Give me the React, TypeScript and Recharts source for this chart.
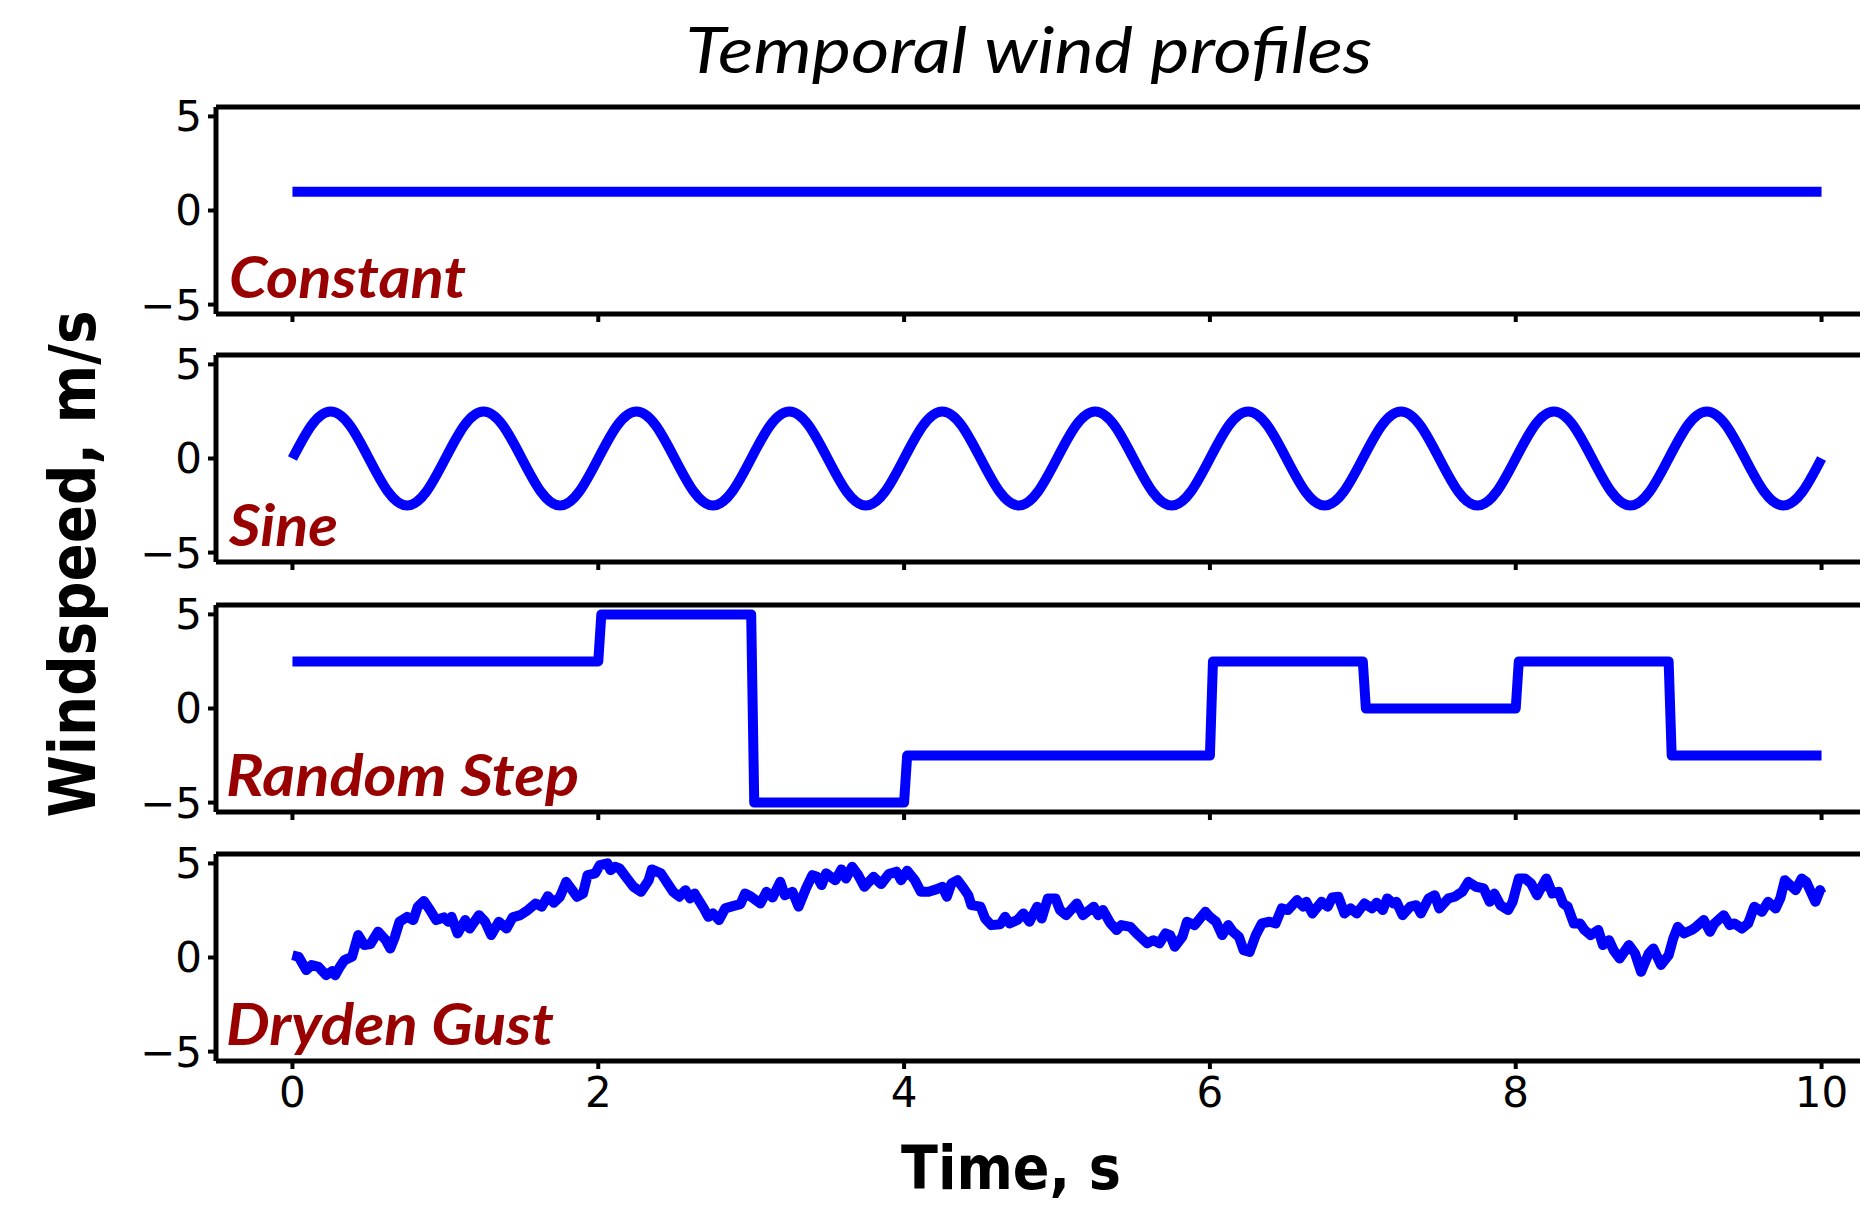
import * as React from 'react';
import { Line, LineChart, ReferenceLine, XAxis, YAxis } from 'recharts';

// tick values
const TIME_TICKS = [0, 2, 4, 6, 8, 10];
const SPEED_TICKS = [-5, 0, 5];

// constant wind
const constTime = [0, 10];
const constSpeed = [1, 1];

// sine wind, sampled every 1/8 s
const sineTime = [
  0, 0.125, 0.25, 0.375, 0.5, 0.625, 0.75, 0.875,
  1, 1.125, 1.25, 1.375, 1.5, 1.625, 1.75, 1.875,
  2, 2.125, 2.25, 2.375, 2.5, 2.625, 2.75, 2.875,
  3, 3.125, 3.25, 3.375, 3.5, 3.625, 3.75, 3.875,
  4, 4.125, 4.25, 4.375, 4.5, 4.625, 4.75, 4.875,
  5, 5.125, 5.25, 5.375, 5.5, 5.625, 5.75, 5.875,
  6, 6.125, 6.25, 6.375, 6.5, 6.625, 6.75, 6.875,
  7, 7.125, 7.25, 7.375, 7.5, 7.625, 7.75, 7.875,
  8, 8.125, 8.25, 8.375, 8.5, 8.625, 8.75, 8.875,
  9, 9.125, 9.25, 9.375, 9.5, 9.625, 9.75, 9.875,
  10,
];
const sineSpeed = [
  0, 1.77, 2.5, 1.77, 0, -1.77, -2.5, -1.77,
  0, 1.77, 2.5, 1.77, 0, -1.77, -2.5, -1.77,
  0, 1.77, 2.5, 1.77, 0, -1.77, -2.5, -1.77,
  0, 1.77, 2.5, 1.77, 0, -1.77, -2.5, -1.77,
  0, 1.77, 2.5, 1.77, 0, -1.77, -2.5, -1.77,
  0, 1.77, 2.5, 1.77, 0, -1.77, -2.5, -1.77,
  0, 1.77, 2.5, 1.77, 0, -1.77, -2.5, -1.77,
  0, 1.77, 2.5, 1.77, 0, -1.77, -2.5, -1.77,
  0, 1.77, 2.5, 1.77, 0, -1.77, -2.5, -1.77,
  0, 1.77, 2.5, 1.77, 0, -1.77, -2.5, -1.77,
  0,
];

// random step wind
const stepTime = [0, 2, 2.02, 3, 3.02, 4, 4.02, 6, 6.02, 7, 7.02, 8, 8.02, 9, 9.02, 10];
const stepSpeed = [2.5, 2.5, 5, 5, -5, -5, -2.5, -2.5, 2.5, 2.5, 0, 0, 2.5, 2.5, -2.5, -2.5];

// dryden gust
const gustTime = [
  0, 0.04, 0.09, 0.125, 0.17, 0.22, 0.26, 0.28, 0.31, 0.34, 0.39, 0.43, 0.47, 0.51, 0.56, 0.61,
  0.64, 0.67, 0.7, 0.75, 0.79, 0.82, 0.86, 0.9, 0.94, 0.99, 1.02, 1.04, 1.08, 1.13, 1.16, 1.22,
  1.26, 1.3, 1.35, 1.4, 1.44, 1.49, 1.54, 1.59, 1.63, 1.67, 1.71, 1.75, 1.79, 1.83, 1.86, 1.9,
  1.93, 1.98, 2.01, 2.06, 2.08, 2.11, 2.14, 2.18, 2.23, 2.28, 2.33, 2.35, 2.41, 2.46, 2.49, 2.53,
  2.57, 2.6, 2.63, 2.69, 2.72, 2.75, 2.79, 2.83, 2.88, 2.93, 2.96, 3.0, 3.06, 3.1, 3.14, 3.19,
  3.22, 3.27, 3.31, 3.36, 3.4, 3.43, 3.46, 3.49, 3.55, 3.59, 3.62, 3.66, 3.7, 3.74, 3.8, 3.85,
  3.9, 3.95, 3.98, 4.02, 4.07, 4.11, 4.16, 4.21, 4.25, 4.28, 4.31, 4.35, 4.39, 4.42, 4.44, 4.5,
  4.53, 4.57, 4.63, 4.66, 4.69, 4.74, 4.78, 4.82, 4.87, 4.9, 4.94, 4.99, 5.02, 5.06, 5.13, 5.17,
  5.24, 5.27, 5.3, 5.35, 5.39, 5.42, 5.48, 5.52, 5.59, 5.63, 5.67, 5.71, 5.74, 5.77, 5.82, 5.85,
  5.9, 5.97, 6.0, 6.04, 6.08, 6.12, 6.15, 6.19, 6.22, 6.26, 6.3, 6.34, 6.39, 6.43, 6.47, 6.51,
  6.57, 6.61, 6.63, 6.67, 6.73, 6.77, 6.8, 6.84, 6.88, 6.92, 6.96, 7.01, 7.06, 7.09, 7.13, 7.16,
  7.2, 7.22, 7.26, 7.31, 7.35, 7.38, 7.43, 7.47, 7.5, 7.56, 7.6, 7.65, 7.69, 7.74, 7.79, 7.83,
  7.86, 7.9, 7.95, 7.98, 8.02, 8.06, 8.1, 8.14, 8.2, 8.24, 8.28, 8.31, 8.34, 8.38, 8.42, 8.45,
  8.49, 8.54, 8.57, 8.61, 8.64, 8.68, 8.74, 8.78, 8.82, 8.87, 8.9, 8.95, 9.0, 9.03, 9.06, 9.1,
  9.15, 9.18, 9.23, 9.27, 9.3, 9.36, 9.4, 9.43, 9.48, 9.52, 9.56, 9.61, 9.65, 9.7, 9.73, 9.76,
  9.83, 9.87, 9.9, 9.96, 9.99, 10,
];
const gustSpeed = [
  0.12, 0.04, -0.67, -0.4, -0.5, -0.94, -0.72, -0.94, -0.5, -0.14, 0.04, 1.19, 0.66, 0.71, 1.37, 0.92,
  0.48, 1.1, 1.9, 2.16, 1.99, 2.7, 3.0, 2.52, 1.99, 2.13, 1.9, 2.16, 1.28, 1.99, 1.54, 2.25,
  1.9, 1.19, 1.9, 1.54, 2.13, 2.25, 2.52, 2.87, 2.7, 3.26, 2.91, 3.23, 4.02, 3.58, 3.23, 3.4,
  4.38, 4.47, 4.91, 5.0, 4.64, 4.82, 4.73, 4.29, 3.76, 3.49, 4.11, 4.68, 4.47, 3.85, 3.49, 3.23,
  3.58, 3.14, 3.4, 2.61, 2.16, 2.34, 1.99, 2.61, 2.73, 2.84, 3.4, 3.23, 2.87, 3.49, 3.19, 4.02,
  3.31, 3.49, 2.7, 3.7, 4.38, 4.29, 3.85, 4.47, 4.11, 4.68, 4.2, 4.82, 4.38, 3.76, 4.29, 3.9,
  4.43, 4.56, 4.11, 4.61, 4.11, 3.49, 3.49, 3.62, 3.76, 3.23, 3.94, 4.11, 3.67, 3.31, 2.78, 2.7,
  2.07, 1.72, 1.77, 2.16, 1.81, 1.99, 2.34, 1.9, 2.7, 2.07, 3.14, 3.14, 2.52, 2.25, 2.87, 2.25,
  2.7, 2.25, 2.52, 1.81, 1.46, 1.72, 1.63, 1.28, 0.75, 0.92, 0.75, 1.28, 1.19, 0.57, 1.1, 1.9,
  1.72, 2.43, 2.16, 1.9, 1.19, 1.72, 1.37, 1.1, 0.39, 0.3, 1.19, 1.81, 1.9, 1.81, 2.61, 2.52,
  3.05, 2.7, 2.96, 2.34, 2.96, 2.7, 3.19, 3.23, 2.34, 2.61, 2.34, 2.87, 2.61, 2.91, 2.52, 3.14,
  2.87, 2.96, 2.25, 2.7, 2.78, 2.34, 3.14, 3.31, 2.61, 3.14, 3.23, 3.49, 4.02, 3.76, 3.67, 2.96,
  3.4, 2.78, 2.52, 2.96, 4.2, 4.2, 3.94, 3.31, 4.2, 3.4, 3.49, 2.87, 2.7, 1.81, 1.81, 1.46,
  1.19, 1.46, 0.66, 0.92, 0.39, -0.05, 0.66, 0.22, -0.76, 0.22, 0.48, -0.4, 0.12, 1.01, 1.63, 1.28,
  1.46, 1.63, 1.99, 1.37, 1.81, 2.25, 1.72, 1.81, 1.54, 1.81, 2.7, 2.43, 2.96, 2.61, 3.14, 4.11,
  3.58, 4.2, 4.02, 2.96, 3.58, 3.4,
];

const PANEL_LABELS = ['Constant', 'Sine', 'Random Step', 'Dryden Gust'];

const toRows = (t: number[], v: number[]) => t.map((x, i) => ({ t: x, v: v[i] }));

const PANEL_TOPS = [107, 355, 605, 854];
const PLOT_H = 207;
const PAD_TOP = 30;
const TICK_FONT = { fontSize: 42, fontFamily: 'DejaVu Sans', fill: '#000' };
const LABEL_X = [229, 229, 226, 226];
const LABEL_LEN = [237, 109, 353, 328];

type PanelProps = {
  top: number;
  rows: { t: number; v: number }[];
  curve: 'linear' | 'natural';
  bottom?: boolean;
};

function Panel({ top, rows, curve, bottom }: PanelProps) {
  const axisH = bottom ? 70 : 36;
  return (
    <div style={{ position: 'absolute', left: 0, top: top - PAD_TOP }}>
      <LineChart
        width={1960}
        height={PAD_TOP + PLOT_H + axisH}
        data={rows}
        margin={{ top: PAD_TOP, right: 62, bottom: 0, left: 0 }}
      >
        <XAxis
          dataKey="t"
          type="number"
          domain={[-0.5, 10.5]}
          ticks={TIME_TICKS}
          interval={0}
          allowDataOverflow
          height={axisH}
          axisLine={{ stroke: '#000', strokeWidth: 5 }}
          tickLine={{ stroke: '#000', strokeWidth: 4 }}
          tickSize={8}
          tickMargin={8}
          tick={TICK_FONT}
          tickFormatter={(v) => (bottom ? String(v) : '')}
        />
        <YAxis
          type="number"
          domain={[-5.5, 5.5]}
          ticks={SPEED_TICKS}
          interval={0}
          allowDataOverflow
          width={216}
          axisLine={{ stroke: '#000', strokeWidth: 5 }}
          tickLine={{ stroke: '#000', strokeWidth: 4 }}
          tickSize={8}
          tickMargin={6}
          tick={TICK_FONT}
          tickFormatter={(v) => (v < 0 ? `\u2212${-v}` : String(v))}
        />
        <ReferenceLine y={5.5} stroke="#000" strokeWidth={5} />
        <Line
          dataKey="v"
          type={curve}
          stroke="#0000ff"
          strokeWidth={10}
          strokeLinejoin="round"
          dot={false}
          activeDot={false}
          isAnimationActive={false}
        />
      </LineChart>
    </div>
  );
}

export default function App() {
  const panels = [
    { rows: toRows(constTime, constSpeed), curve: 'linear' as const },
    { rows: toRows(sineTime, sineSpeed), curve: 'natural' as const },
    { rows: toRows(stepTime, stepSpeed), curve: 'linear' as const },
    { rows: toRows(gustTime, gustSpeed), curve: 'linear' as const },
  ];

  return (
    <div
      style={{
        position: 'fixed',
        left: 0,
        top: 0,
        width: 1860,
        height: 1207,
        overflow: 'hidden',
        background: '#fff',
      }}
    >
      {panels.map((p, i) => (
        <Panel key={i} top={PANEL_TOPS[i]} rows={p.rows} curve={p.curve} bottom={i === 3} />
      ))}
      <svg
        width={1860}
        height={1207}
        style={{ position: 'absolute', left: 0, top: 0, pointerEvents: 'none' }}
      >
        <text
          x={1029}
          y={73}
          textAnchor="middle"
          fontFamily="Lato, 'Open Sans', sans-serif"
          fontStyle="italic"
          fontSize={64}
          textLength={687}
          lengthAdjust="spacingAndGlyphs"
          fill="#000"
        >
          Temporal wind profiles
        </text>
        {PANEL_LABELS.map((lab, i) => (
          <text
            key={lab}
            x={LABEL_X[i]}
            y={PANEL_TOPS[i] + PLOT_H - 16}
            fontFamily="Lato, 'Open Sans', sans-serif"
            fontStyle="italic"
            fontWeight={700}
            fontSize={57}
            textLength={LABEL_LEN[i]}
            lengthAdjust="spacingAndGlyphs"
            fill="#990000"
          >
            {lab}
          </text>
        ))}
        <text
          transform="translate(95,564) rotate(-90)"
          textAnchor="middle"
          fontFamily="'DejaVu Sans', sans-serif"
          fontWeight={700}
          fontSize={64}
          textLength={507}
          lengthAdjust="spacingAndGlyphs"
          fill="#000"
        >
          Windspeed, m/s
        </text>
        <text
          x={1011}
          y={1189}
          textAnchor="middle"
          fontFamily="'DejaVu Sans', sans-serif"
          fontWeight={700}
          fontSize={60}
          textLength={220}
          lengthAdjust="spacingAndGlyphs"
          fill="#000"
        >
          Time, s
        </text>
      </svg>
    </div>
  );
}
